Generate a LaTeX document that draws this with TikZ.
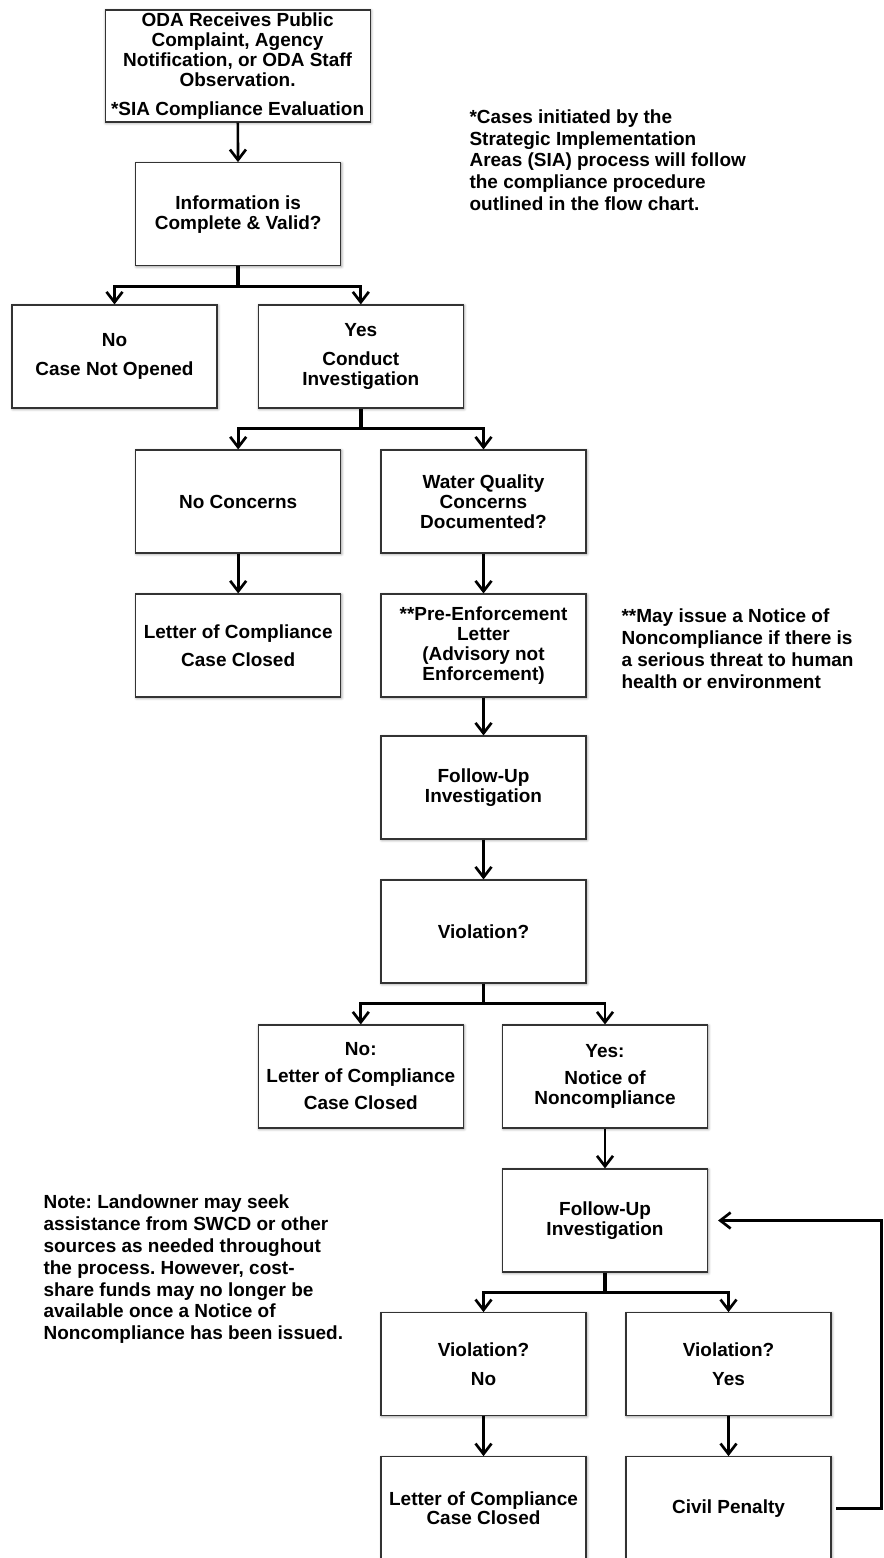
\documentclass[tikz,border=0pt]{standalone}
\usepackage{fontspec}
\setmainfont{Liberation Sans}
\usetikzlibrary{positioning,arrows.meta,shadows.blur}
\frenchspacing

\begin{document}
\begin{tikzpicture}[
    thick,
    block/.style={
        rectangle,
        draw=black!80,
        line width=0.8pt,
        minimum width=5.125cm,
        minimum height=2.575cm,
        text centered,
        align=center,
        inner sep=2pt,
        fill=white,
        font=\fontsize{13.5}{14.2}\selectfont\bfseries,
        blur shadow={shadow xshift=0.6pt, shadow yshift=-0.6pt, shadow blur radius=2pt, shadow opacity=45}
    },
    note/.style={
        align=left,
        anchor=north west,
        inner sep=0pt,
        font=\fontsize{13.5}{15.6}\selectfont\bfseries
    },
    line/.style={draw, line width=1.9pt, -{Straight Barb[length=2.6mm,width=4mm]}},
    trunk/.style={draw, line width=2.8pt}
]
    \useasboundingbox (0,0) rectangle (22.075,-38.95);

    % Intake
    \node[block, minimum width=6.625cm, minimum height=2.8cm] (oda) at (5.94,-1.65) {ODA Receives Public\\Complaint, Agency\\Notification, or ODA Staff\\Observation.\\[6pt]*SIA Compliance Evaluation};
    \node[block] (info) at (5.955,-5.355) {Information is\\Complete \& Valid?};

    % Investigation
    \node[block] (notopened) at (2.8625,-8.9125) {No\\[6pt]Case Not Opened};
    \node[block] (conduct) at (9.02,-8.9125) {Yes\\[6pt]Conduct\\Investigation};
    \node[block] (noconcern) at (5.955,-12.5375) {No Concerns};
    \node[block] (wqconcern) at (12.0875,-12.5375) {Water Quality\\Concerns\\Documented?};
    \node[block] (compliance) at (5.955,-16.1375) {Letter of Compliance\\[6pt]Case Closed};
    \node[block] (preenf) at (12.0875,-16.1375) {**Pre-Enforcement\\Letter\\(Advisory not\\Enforcement)};
    \node[block] (followup) at (12.0875,-19.6875) {Follow-Up\\Investigation};
    \node[block] (violation) at (12.0875,-23.2875) {Violation?};

    % Enforcement
    \node[block] (nocase) at (9.02,-26.9125) {No:\\[5pt]Letter of Compliance\\[5pt]Case Closed};
    \node[block] (notice) at (15.125,-26.9125) {Yes:\\[5pt]Notice of\\Noncompliance};
    \node[block] (followupb) at (15.125,-30.5125) {Follow-Up\\Investigation};
    \node[block] (violno) at (12.0875,-34.105) {Violation?\\[6pt]No};
    \node[block] (violyes) at (18.2125,-34.105) {Violation?\\[6pt]Yes};
    \node[block] (complianceb) at (12.0875,-37.705) {Letter of Compliance\\Case Closed};
    \node[block] (penalty) at (18.2125,-37.705) {Civil Penalty};

    % Notes
    \node[note] (sianote) at (11.725,-2.72) {*Cases initiated by the\\Strategic Implementation\\Areas (SIA) process will follow\\the compliance procedure\\outlined in the flow chart.};
    \node[note] (noncnote) at (15.525,-15.2) {**May issue a Notice of\\Noncompliance if there is\\a serious threat to human\\health or environment};
    \node[note] (swcdnote) at (1.075,-29.85) {Note: Landowner may seek\\assistance from SWCD or other\\sources as needed throughout\\the process. However, cost-\\share funds may no longer be\\available once a Notice of\\Noncompliance has been issued.};

    % Connections
    \draw[line] (oda) -- (info);
    \draw[trunk] (info.south) -- ++(0,-0.5) coordinate (splita);
    \draw[line] (splita) -| (notopened);
    \draw[line] (splita) -| (conduct);
    \draw[trunk] (conduct.south) -- ++(0,-0.5) coordinate (splitb);
    \draw[line] (splitb) -| (noconcern);
    \draw[line] (splitb) -| (wqconcern);
    \draw[line] (noconcern) -- (compliance);
    \draw[line] (wqconcern) -- (preenf);
    \draw[line] (preenf) -- (followup);
    \draw[line] (followup) -- (violation);
    \draw[trunk] (violation.south) -- ++(0,-0.5) coordinate (splitc);
    \draw[line] (splitc) -| (nocase);
    \draw[line] (splitc) -| (notice);
    \draw[line] (notice) -- (followupb);
    \draw[trunk] (followupb.south) -- ++(0,-0.5) coordinate (splitd);
    \draw[line] (splitd) -| (violno);
    \draw[line] (splitd) -| (violyes);
    \draw[line] (violno) -- (complianceb);
    \draw[line] (violyes) -- (penalty);

    % Loop back
    \coordinate (loop) at (22.04,-34);
    \draw[line, shorten >=0.25cm] ([xshift=0.12cm]penalty.east) -| (loop) |- (followupb.east);
\end{tikzpicture}
\end{document}
